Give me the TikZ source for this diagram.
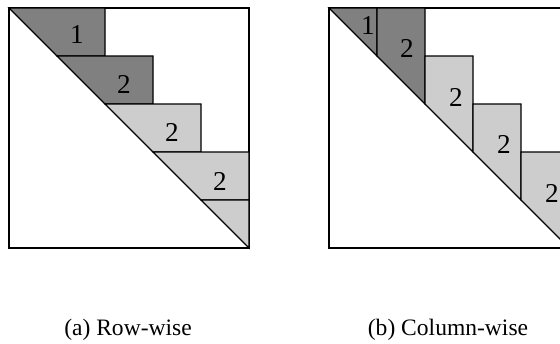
\documentclass[tikz,border=0pt]{standalone}
\usepackage{fontspec}
\setmainfont{Liberation Serif}
\definecolor{darkblock}{RGB}{128, 128, 128}
\definecolor{lightblock}{RGB}{205, 205, 205}
\usepackage{tikz}

\begin{document}
\begin{tikzpicture}[
        x=0.02cm, y=-0.02cm,
        every node/.style={font=\fontsize{15.5}{18}\selectfont, inner sep=0pt},
        caption/.style={anchor=base, font=\fontsize{13.4}{16}\selectfont},
        frame/.style={draw, line width=0.7pt},
        darkpart/.style={fill=darkblock, draw, line width=0.7pt},
        lightpart/.style={fill=lightblock, draw, line width=0.7pt}
      ]
        \clip (0,0) rectangle (560,343);
        % row-wise
        \draw[frame] (9,8) rectangle (249,248);
        \filldraw[darkpart] (9,8) -- (105,8) -- (105,56) -- (57,56) -- cycle;
        \filldraw[darkpart] (57,56) -- (153,56) -- (153,104) -- (105,104) -- cycle;
        \filldraw[lightpart] (105,104) -- (201,104) -- (201,152) -- (153,152) -- cycle;
        \filldraw[lightpart] (153,152) -- (249,152) -- (249,200) -- (201,200) -- cycle;
        \filldraw[lightpart] (201,200) -- (249,200) -- (249,248) -- cycle;
        \node (rowone) at (77,35) {1};
        \node (rowtwo) at (124,84) {2};
        \node (rowthree) at (172,132) {2};
        \node (rowfour) at (220,181) {2};
        \node[caption] (rowcap) at (128,335) {(a) Row-wise};
        % column-wise
        \draw[frame] (329,8) rectangle (569,248);
        \filldraw[darkpart] (329,8) -- (377,8) -- (377,56) -- cycle;
        \filldraw[darkpart] (377,8) -- (425,8) -- (425,104) -- (377,56) -- cycle;
        \filldraw[lightpart] (425,56) -- (473,56) -- (473,152) -- (425,104) -- cycle;
        \filldraw[lightpart] (473,104) -- (521,104) -- (521,200) -- (473,152) -- cycle;
        \filldraw[lightpart] (521,152) -- (569,152) -- (569,248) -- (521,200) -- cycle;
        \node (colone) at (368,26) {1};
        \node (coltwo) at (407,48) {2};
        \node (colthree) at (456,97) {2};
        \node (colfour) at (504,144) {2};
        \node (colfive) at (552,193) {2};
        \node[caption] (colcap) at (448,335) {(b) Column-wise};
      \end{tikzpicture}
\end{document}
